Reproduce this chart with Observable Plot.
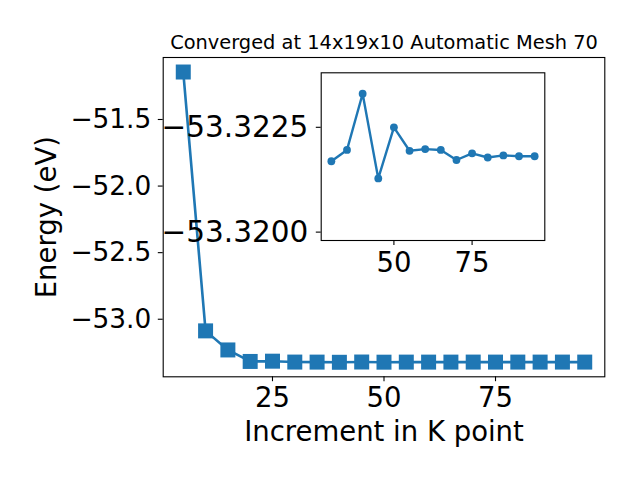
<!DOCTYPE html>
<html>
<head>
<meta charset="utf-8">
<script src="https://cdn.jsdelivr.net/npm/d3@7"></script>
<script src="https://cdn.jsdelivr.net/npm/@observablehq/plot@0.6"></script>
<style>
  html, body { margin: 0; padding: 0; background: white; }
  #wrap { position: relative; width: 640px; height: 480px; }
  #wrap svg { position: absolute; left: 0; top: 0; }
</style>
</head>
<body>
<div id="wrap"></div>
<script>
// ---- data ----
const kpoints = [5, 10, 15, 20, 25, 30, 35, 40, 45, 50, 55, 60, 65, 70, 75, 80, 85, 90, 95];
const headEnergy = [-51.1435, -53.0874, -53.2306, -53.317, -53.315];
const insetK = [30, 35, 40, 45, 50, 55, 60, 65, 70, 75, 80, 85, 90, 95];
const insetEnergy = [-53.32169, -53.32196, -53.32330, -53.32128, -53.32250, -53.32194, -53.32198,
                     -53.32196, -53.32172, -53.32188, -53.32178, -53.32183, -53.32181, -53.32181];
const energy = headEnergy.concat(insetEnergy);
const mainXTicks = [25, 50, 75];
const mainYTicks = [-53.0, -52.5, -52.0, -51.5];
const insetXTicks = [50, 75];
const insetYTicks = [-53.3225, -53.3200];
const titleText = "Converged at 14x19x10 Automatic Mesh 70";
const xLabel = "Increment in K point";
const yLabel = "Energy (eV)";

const mainData = kpoints.map((k, i) => ({k, e: energy[i]}));
const insetData = insetK.map((k, i) => ({k, e: insetEnergy[i]}));

const blue = "#1f77b4";
const font = "DejaVu Sans";

const eMin = d3.min(energy), eMax = d3.max(energy), eR = eMax - eMin;
const yDom = [eMin - 0.05 * eR, eMax + 0.05 * eR];

const main = Plot.plot({
  width: 640, height: 480,
  marginLeft: 162.7, marginRight: 35.7, marginTop: 57, marginBottom: 103.7,
  style: {fontFamily: font, background: "white", color: "black"},
  x: {domain: [0.5, 99.5]},
  y: {domain: yDom},
  marks: [
    Plot.axisX({ticks: mainXTicks, tickSize: 4.9, tickPadding: 6, fontSize: 27.5, label: null, strokeWidth: 1.1}),
    Plot.axisY({ticks: mainYTicks, tickSize: 4.9, tickPadding: 7, fontSize: 26.4, label: null, strokeWidth: 1.1, tickFormat: d3.format(".1f")}),
    Plot.frame({stroke: "black", strokeWidth: 1.1}),
    Plot.line(mainData, {x: "k", y: "e", stroke: blue, strokeWidth: 2.6}),
    Plot.dot(mainData, {x: "k", y: "e", symbol: "square", r: 8.46, fill: blue}),
    Plot.text([titleText], {text: d => d, frameAnchor: "top", textAnchor: "middle", lineAnchor: "middle", dy: -14.7, fontSize: 19.4, fill: "black"}),
    Plot.text([xLabel], {text: d => d, frameAnchor: "bottom", textAnchor: "middle", lineAnchor: "middle", dy: 55, fontSize: 27.5, fill: "black"}),
    Plot.text([yLabel], {text: d => d, frameAnchor: "left", textAnchor: "middle", lineAnchor: "middle", dx: -116.5, rotate: -90, fontSize: 27.5, fill: "black"})
  ]
});

const inset = Plot.plot({
  width: 640, height: 480,
  marginLeft: 320.7, marginRight: 95.7, marginTop: 72.3, marginBottom: 240,
  style: {fontFamily: font, background: "transparent", color: "black"},
  x: {domain: [26.75, 98.25]},
  y: {domain: [-53.3198, -53.3238]},
  marks: [
    Plot.frame({fill: "white"}),
    Plot.axisX({ticks: insetXTicks, tickSize: 4.9, tickPadding: 7, fontSize: 27.5, label: null, strokeWidth: 1.1}),
    Plot.axisY({ticks: insetYTicks, tickSize: 4.9, tickPadding: 8, fontSize: 29.5, label: null, strokeWidth: 1.1, tickFormat: d3.format(".4f")}),
    Plot.frame({stroke: "black", strokeWidth: 1.1}),
    Plot.line(insetData, {x: "k", y: "e", stroke: blue, strokeWidth: 2.4}),
    Plot.dot(insetData, {x: "k", y: "e", r: 3.9, fill: blue})
  ]
});

const wrap = document.getElementById("wrap");
wrap.appendChild(main);
wrap.appendChild(inset);
</script>
</body>
</html>
